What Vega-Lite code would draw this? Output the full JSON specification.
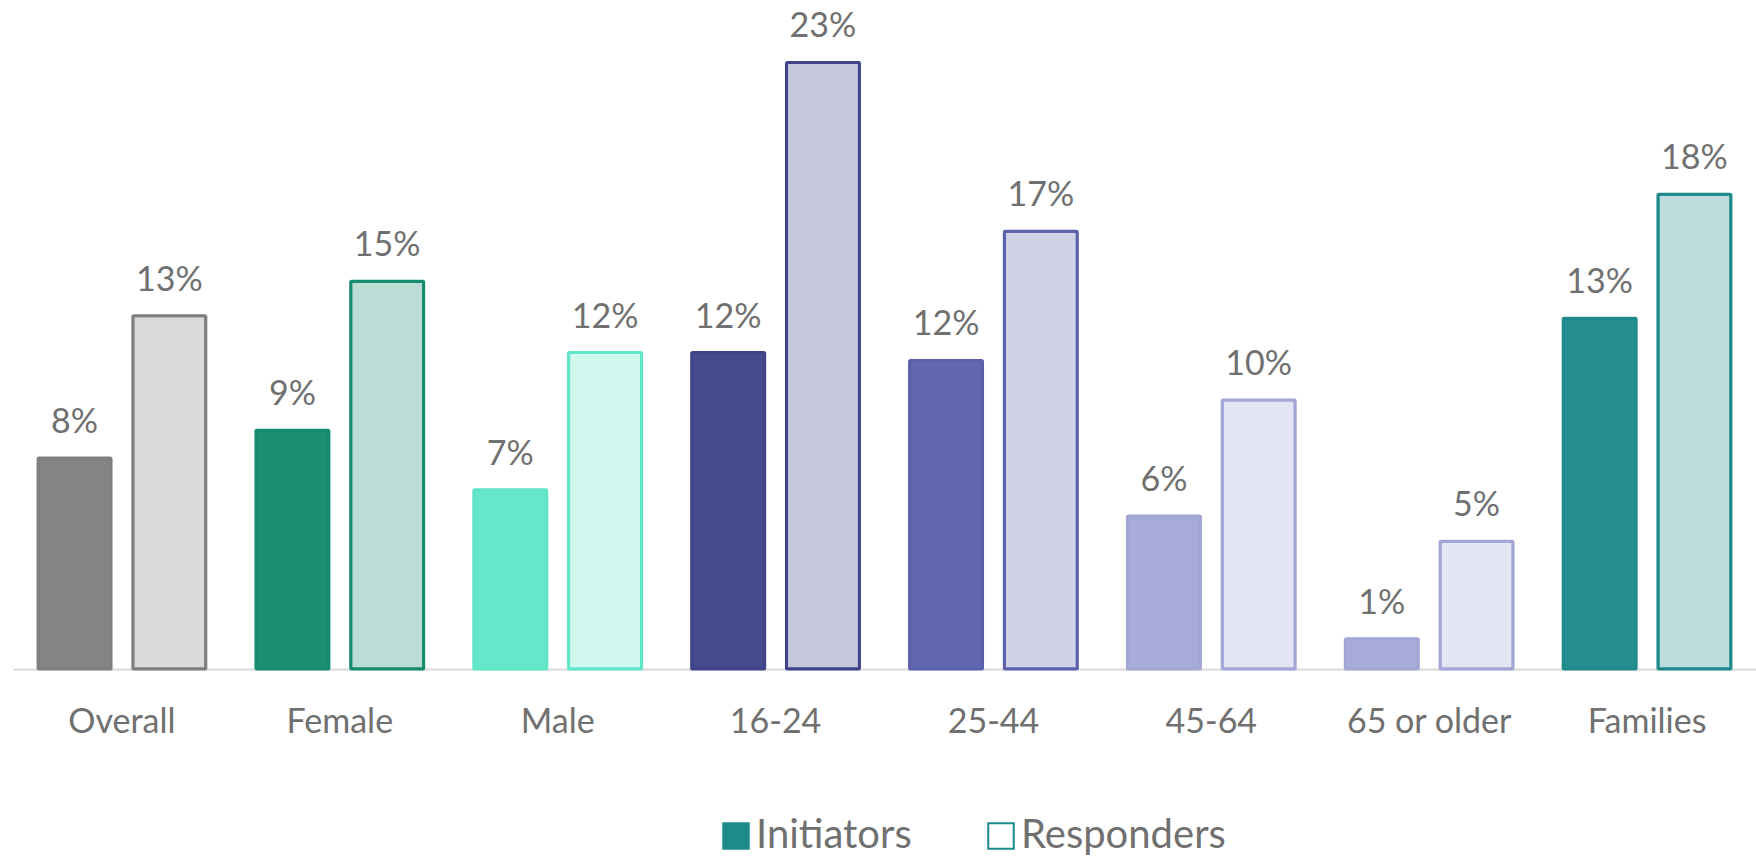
{
  "$schema": "https://vega.github.io/schema/vega-lite/v6.json",
  "width": 1743,
  "height": 669,
  "autosize": {"type": "none"},
  "padding": {"left": 13, "top": 0, "right": 0, "bottom": 190},
  "background": "white",
  "config": {"view": {"stroke": null}, "font": "Lato"},
  "data": {
    "values": [
      {"group": "Overall", "series": "Initiators", "value": 0.080},
      {"group": "Overall", "series": "Responders", "value": 0.134},
      {"group": "Female", "series": "Initiators", "value": 0.0905},
      {"group": "Female", "series": "Responders", "value": 0.147},
      {"group": "Male", "series": "Initiators", "value": 0.068},
      {"group": "Male", "series": "Responders", "value": 0.120},
      {"group": "16-24", "series": "Initiators", "value": 0.120},
      {"group": "16-24", "series": "Responders", "value": 0.230},
      {"group": "25-44", "series": "Initiators", "value": 0.117},
      {"group": "25-44", "series": "Responders", "value": 0.166},
      {"group": "45-64", "series": "Initiators", "value": 0.058},
      {"group": "45-64", "series": "Responders", "value": 0.102},
      {"group": "65 or older", "series": "Initiators", "value": 0.0115},
      {"group": "65 or older", "series": "Responders", "value": 0.0484},
      {"group": "Families", "series": "Initiators", "value": 0.133},
      {"group": "Families", "series": "Responders", "value": 0.180}
    ]
  },
  "encoding": {
    "x": {
      "field": "group",
      "type": "nominal",
      "sort": ["Overall", "Female", "Male", "16-24", "25-44", "45-64", "65 or older", "Families"],
      "scale": {"paddingInner": 0.23, "paddingOuter": 0.115},
      "axis": {
        "title": null,
        "labelAngle": 0,
        "labelFontSize": 34,
        "labelColor": "#707070",
        "labelPadding": 36,
        "ticks": false,
        "domainColor": "#d9d9d9",
        "domainWidth": 2,
        "grid": false
      }
    },
    "xOffset": {
      "field": "series",
      "type": "nominal",
      "sort": ["Initiators", "Responders"],
      "scale": {"paddingInner": 0.23, "paddingOuter": 0}
    },
    "y": {
      "field": "value",
      "type": "quantitative",
      "scale": {"domain": [0, 0.2537], "nice": false},
      "axis": null
    }
  },
  "layer": [
    {
      "mark": {"type": "bar", "cornerRadius": 1},
      "encoding": {
        "color": {
          "field": "series",
          "type": "nominal",
          "scale": {"domain": ["Initiators", "Responders"], "range": ["#1f8a8c", "#ffffff"]},
          "legend": {
            "title": null,
            "orient": "none",
            "legendX": 703,
            "legendY": 816,
            "direction": "horizontal",
            "padding": 0,
            "symbolType": "square",
            "symbolSize": 650,
            "symbolStrokeColor": "#1f8a8c",
            "symbolStrokeWidth": 2,
            "symbolOpacity": 1,
            "labelFontSize": 40,
            "labelColor": "#707070",
            "labelOffset": 0,
            "labelLimit": 400,
            "columnPadding": 69
          }
        }
      }
    },
    {
      "mark": {"type": "bar", "strokeWidth": 3, "cornerRadius": 1},
      "encoding": {
        "fill": {
          "field": "group",
          "type": "nominal",
          "scale": {
            "domain": ["Overall", "Female", "Male", "16-24", "25-44", "45-64", "65 or older", "Families"],
            "range": ["#848484", "#1e8e73", "#66e7ca", "#464a8d", "#6267b0", "#a7abd8", "#a7abd8", "#278e90"]
          },
          "legend": null
        },
        "stroke": {
          "field": "group",
          "type": "nominal",
          "scale": {
            "domain": ["Overall", "Female", "Male", "16-24", "25-44", "45-64", "65 or older", "Families"],
            "range": ["#7f7f7f", "#158b6f", "#5fe6c8", "#3f4389", "#5b60ad", "#a2a6d6", "#a2a6d6", "#1f8a8c"]
          },
          "legend": null
        },
        "fillOpacity": {
          "field": "series",
          "type": "nominal",
          "scale": {"domain": ["Initiators", "Responders"], "range": [1, 0.3]},
          "legend": null
        }
      }
    },
    {
      "mark": {"type": "text", "baseline": "alphabetic", "dy": -25, "fontSize": 34, "color": "#707070"},
      "encoding": {
        "text": {"field": "value", "type": "quantitative", "format": ".0%"}
      }
    }
  ]
}
